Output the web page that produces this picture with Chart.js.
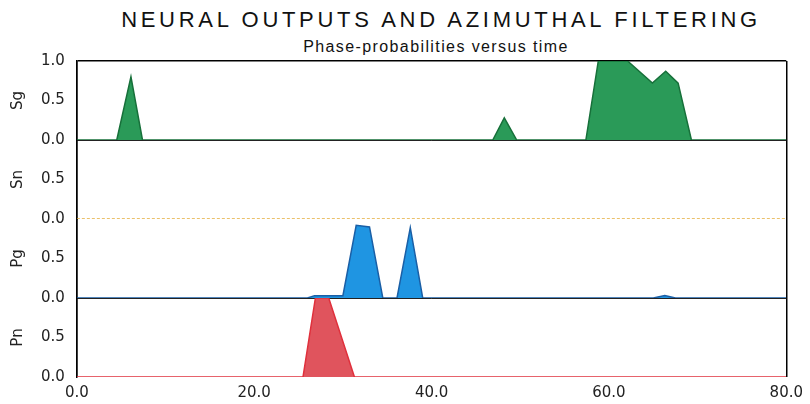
<!DOCTYPE html>
<html>
<head>
<meta charset="utf-8">
<script src="https://cdn.jsdelivr.net/npm/chart.js@4.4.1/dist/chart.umd.min.js"></script>
<style>
  body { margin: 0; background: #fff; }
  #wrap { position: relative; width: 810px; height: 404px; }
  #title {
    position: absolute; left: 0; top: 7px; width: 810px; text-align: center;
    font: 22px "Liberation Sans", Arial, sans-serif; letter-spacing: 3.7px; color: #111;
    padding-left: 72px; box-sizing: border-box;
  }
  #subtitle {
    position: absolute; left: 0; top: 38px; width: 810px; text-align: center;
    font: 16px "Liberation Sans", Arial, sans-serif; letter-spacing: 1.4px; color: #111;
    padding-left: 62px; box-sizing: border-box;
  }
  canvas { position: absolute; left: 0; top: 0; }
</style>
</head>
<body>
<div id="wrap">
  <div id="title">NEURAL OUTPUTS AND AZIMUTHAL FILTERING</div>
  <div id="subtitle">Phase-probabilities versus time</div>
  <canvas id="chart" width="810" height="404"></canvas>
</div>
<script>
// time axis
const timeTicks = [0, 20, 40, 60, 80];

// Sg
const sgTime = [0, 4.5, 6.1, 7.4, 46.9, 48.2, 49.6, 57.4, 58.8, 62.1, 64.9, 66.4, 67.8, 69.3, 80];
const sgProb = [0, 0, 0.80, 0, 0, 0.28, 0, 0, 1.0, 1.0, 0.72, 0.87, 0.72, 0, 0];

// Sn
const snTime = [0, 80];
const snProb = [0, 0];

// Pg
const pgTime = [0, 26.0, 26.8, 30.0, 31.5, 33.0, 34.5, 36.1, 37.6, 39.0, 65.0, 66.3, 67.5, 80];
const pgProb = [0, 0, 0.03, 0.03, 0.92, 0.90, 0, 0, 0.89, 0, 0, 0.03, 0, 0];

// Pn
const pnTime = [0, 25.5, 26.9, 28.4, 31.3, 80];
const pnProb = [0, 0, 1.0, 1.0, 0, 0];

const toPoints = (xs, ys) => xs.map((x, i) => ({ x: x, y: ys[i] }));

const tickFont = { family: 'DejaVu Sans', size: 15 };

function phaseAxis(name, top, blackZero) {
  return {
    type: 'linear',
    position: 'left',
    stack: 'phase',
    stackWeight: 1,
    min: 0,
    max: 1,
    z: blackZero ? 1 : 0,
    border: { display: true, color: '#000', width: 1.5 },
    grid: {
      drawTicks: false,
      color: (ctx) => {
        const v = ctx.tick ? ctx.tick.value : null;
        if (v === 0 && blackZero) return '#222';
        if (v === 1 && top) return '#000';
        return 'rgba(0,0,0,0)';
      },
      lineWidth: (ctx) => (ctx.tick && ctx.tick.value === 1 ? 1.5 : 1)
    },
    ticks: {
      stepSize: 0.5,
      padding: 12,
      color: '#222',
      font: tickFont,
      callback: (v) => (v === 1 && !top ? '' : v.toFixed(1))
    },
    title: {
      display: true,
      text: name,
      color: '#222',
      font: { family: 'DejaVu Sans', size: 15 },
      padding: { top: 0, bottom: 2 }
    }
  };
}

new Chart(document.getElementById('chart'), {
  type: 'line',
  data: {
    datasets: [
      {
        label: 'Sg', data: toPoints(sgTime, sgProb), yAxisID: 'ySg',
        borderColor: '#17703a', backgroundColor: '#2a9a58', borderWidth: 1.5, fill: 'origin'
      },
      {
        label: 'Sn', data: toPoints(snTime, snProb), yAxisID: 'ySn',
        borderColor: '#e5ad3c', borderWidth: 1.4, borderDash: [3, 2], fill: false
      },
      {
        label: 'Pg', data: toPoints(pgTime, pgProb), yAxisID: 'yPg',
        borderColor: '#1a5fa6', backgroundColor: '#1f95e2', borderWidth: 1.5, fill: 'origin'
      },
      {
        label: 'Pn', data: toPoints(pnTime, pnProb), yAxisID: 'yPn',
        borderColor: '#e0303c', backgroundColor: '#e0545d', borderWidth: 1.5, fill: 'origin'
      }
    ]
  },
  options: {
    responsive: false,
    animation: false,
    elements: { point: { radius: 0 }, line: { tension: 0 } },
    layout: { padding: { top: 61, right: 23, bottom: 0, left: 9 } },
    plugins: { legend: { display: false }, tooltip: { enabled: false } },
    scales: {
      x: {
        type: 'linear',
        min: timeTicks[0],
        max: timeTicks[timeTicks.length - 1],
        afterBuildTicks: (scale) => { scale.ticks = timeTicks.map((v) => ({ value: v })); },
        afterFit: (scale) => { scale.height = 27; },
        border: { display: false },
        grid: {
          drawTicks: false,
          color: (ctx) => (ctx.tick && (ctx.tick.value === 0 || ctx.tick.value === 80) ? '#000' : 'rgba(0,0,0,0)'),
          lineWidth: 1.5
        },
        ticks: { padding: 7, color: '#222', font: tickFont, callback: (v) => v.toFixed(1) }
      },
      yPn: phaseAxis('Pn', false, false),
      yPg: phaseAxis('Pg', false, true),
      ySn: phaseAxis('Sn', false, false),
      ySg: phaseAxis('Sg', true, true)
    }
  }
});
</script>
</body>
</html>
